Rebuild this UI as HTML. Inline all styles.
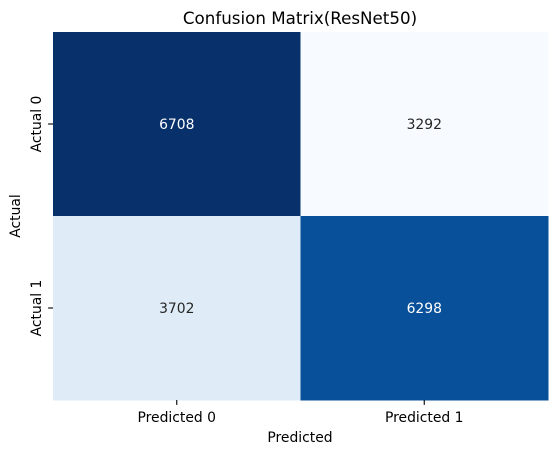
<!DOCTYPE html>
<html><head><meta charset="utf-8"><style>
body{margin:0;background:#fff;}
svg{display:block;font-family:"DejaVu Sans","Liberation Sans",sans-serif;}
</style></head><body>
<svg id="chart" width="559" height="455">
<text x="300" y="24" font-size="16.7" text-anchor="middle" fill="#000">Confusion Matrix(ResNet50)</text>
<g id="cells"></g>
<g id="axes"></g>
<text x="300" y="442" font-size="13.9" text-anchor="middle">Predicted</text>
<text transform="translate(20,216) rotate(-90)" font-size="13.9" text-anchor="middle">Actual</text>
</svg>
<script>
const rowLabels=["Actual 0","Actual 1"];
const colLabels=["Predicted 0","Predicted 1"];
const row0=[6708,3292];
const row1=[3702,6298];
const matrix=[row0,row1];
const L=53,R=548,T=32,B=400;
const stops=["#f7fbff","#deebf7","#c6dbef","#9ecae1","#6baed6","#4292c6","#2171b5","#08519c","#08306b"];
function hex(h){return [1,3,5].map(i=>parseInt(h.substr(i,2),16));}
function blues(t){t=Math.max(0,Math.min(1,t));const p=t*8,i=Math.min(7,Math.floor(p)),f=p-i;const a=hex(stops[i]),b=hex(stops[i+1]);return "rgb("+a.map((v,k)=>Math.round(v+(b[k]-v)*f)).join(",")+")";}
const all=matrix.flat(),mn=Math.min(...all),mx=Math.max(...all);
const cw=(R-L)/colLabels.length,ch=(B-T)/rowLabels.length;
const xS=j=>L+j*cw,yS=i=>T+i*ch;
const NS="http://www.w3.org/2000/svg";
const cells=document.getElementById('cells'),axes=document.getElementById('axes');
function mk(tag,at,p){const e=document.createElementNS(NS,tag);for(const k in at)e.setAttribute(k,at[k]);p.appendChild(e);return e;}
matrix.forEach((row,i)=>row.forEach((v,j)=>{
 const t=(v-mn)/(mx-mn);
 const r=mk('rect',{x:xS(j),y:yS(i),width:cw+0.5,height:ch+0.5,fill:blues(t)},cells);
 
 
 const tx=mk('text',{x:xS(j)+cw/2,y:yS(i)+ch/2+5,'font-size':13.9,'text-anchor':'middle',fill:t>0.5?'#fff':'#262626'},cells);
 tx.textContent=v;
 
 
}));
colLabels.forEach((c,j)=>{
 const x=xS(j)+cw/2;
 mk('line',{x1:x,x2:x,y1:B,y2:B+4.9,stroke:'#000','stroke-width':1.1},axes);
 const t=mk('text',{x:x,y:B+22,'font-size':13.9,'text-anchor':'middle'},axes);
 t.textContent=c;
 
 
});
rowLabels.forEach((c,i)=>{
 const y=yS(i)+ch/2;
 mk('line',{x1:L-4.9,x2:L,y1:y,y2:y,stroke:'#000','stroke-width':1.1},axes);
 const t=mk('text',{transform:'translate('+(L-12)+','+y+') rotate(-90)','font-size':13.9,'text-anchor':'middle'},axes);
 t.textContent=c;
 
 
});
</script>
</body></html>
